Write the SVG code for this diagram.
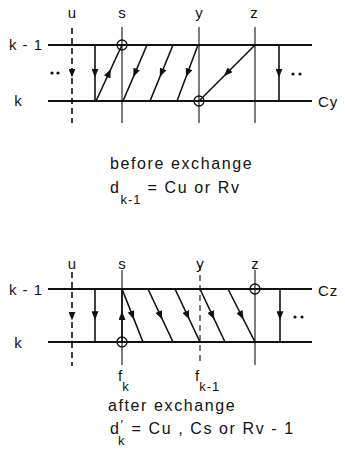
<svg xmlns="http://www.w3.org/2000/svg" width="345" height="463" viewBox="0 0 345 463">
<style>
text{font-family:"Liberation Sans","DejaVu Sans",sans-serif;fill:#111}
.lbl{font-size:15px;text-anchor:middle}
.cap{font-size:16px;letter-spacing:1.6px}
.sub{font-size:13px;letter-spacing:1px}
.rail{stroke:#111;stroke-width:2;fill:none}
.col{stroke:#111;stroke-width:1.1;fill:none}
.dash{stroke-dasharray:6 4}
.arr{stroke:#111;stroke-width:1.6;fill:none;marker-mid:url(#ah)}
.ring{stroke:#111;stroke-width:1.3;fill:none}
.dot{fill:#111}
</style>
<defs>
<marker id="ah" viewBox="0 0 10 8" refX="5" refY="4" markerWidth="9" markerHeight="7" orient="auto" markerUnits="userSpaceOnUse">
<path d="M0,0 L10,4 L0,8 z" fill="#111"/>
</marker>
</defs>
<rect width="345" height="463" fill="#fff"/>

<!-- BEFORE EXCHANGE -->
<g id="before-labels">
<text class="lbl" x="72" y="18">u</text>
<text class="lbl" x="122" y="18">s</text>
<text class="lbl" x="199" y="18">y</text>
<text class="lbl" x="254" y="18">z</text>
<text class="lbl" x="26" y="50" style="letter-spacing:1px">k - 1</text>
<text class="lbl" x="18" y="106">k</text>
<text class="lbl" x="318" y="107" style="text-anchor:start;letter-spacing:1px">Cy</text>
</g>
<g id="before-rails">
<line class="rail" x1="48" y1="45" x2="312" y2="45"/>
<line class="rail" x1="48" y1="101" x2="312" y2="101"/>
</g>
<g id="before-columns">
<line class="col" x1="122" y1="27" x2="122" y2="123"/>
<line class="col" x1="199" y1="27" x2="199" y2="123"/>
<line class="col" x1="255" y1="27" x2="255" y2="123"/>
<circle class="ring" cx="122" cy="45" r="5"/>
<circle class="ring" cx="199" cy="101" r="5"/>
<circle class="dot" cx="52" cy="73" r="1.6"/>
<circle class="dot" cx="58" cy="73" r="1.6"/>
<circle class="dot" cx="293" cy="74" r="1.6"/>
<circle class="dot" cx="300" cy="74" r="1.6"/>
</g>
<g id="before-connectors">
<path class="arr dash" d="M72,28 L72,73 L72,123"/>
<path class="arr" d="M95,45 L95,73 L95,101"/>
<path class="arr" d="M96,101 L109,73 L122,45"/>
<path class="arr" d="M147,45 L135,73 L123,101"/>
<path class="arr" d="M173,45 L161.5,73 L150,101"/>
<path class="arr" d="M198,45 L187.5,73 L177,101"/>
<path class="arr" d="M255,45 L227,73 L199,101"/>
<path class="arr" d="M279,45 L279,73 L279,101"/>
</g>
<g id="before-caption">
<text class="cap" x="110" y="169">before exchange</text>
<text class="cap" x="110" y="193">d<tspan class="sub" dy="11">k-1</tspan><tspan dy="-11"> = Cu  or Rv</tspan></text>
</g>

<!-- AFTER EXCHANGE -->
<g id="after-labels">
<text class="lbl" x="72" y="269">u</text>
<text class="lbl" x="122" y="269">s</text>
<text class="lbl" x="200" y="269">y</text>
<text class="lbl" x="255" y="269">z</text>
<text class="lbl" x="26" y="295" style="letter-spacing:1px">k - 1</text>
<text class="lbl" x="18" y="348">k</text>
<text class="lbl" x="318" y="296" style="text-anchor:start;letter-spacing:1px">Cz</text>
</g>
<g id="after-rails">
<line class="rail" x1="48" y1="289" x2="312" y2="289"/>
<line class="rail" x1="48" y1="342" x2="312" y2="342"/>
</g>
<g id="after-columns">
<line class="col" x1="122" y1="270" x2="122" y2="365"/>
<line class="col dash" x1="200" y1="265" x2="200" y2="365"/>
<line class="col" x1="255" y1="270" x2="255" y2="365"/>
<circle class="ring" cx="122" cy="342" r="5"/>
<circle class="ring" cx="255" cy="289" r="5"/>
<circle class="dot" cx="295" cy="317" r="1.6"/>
<circle class="dot" cx="302" cy="317" r="1.6"/>
</g>
<g id="after-connectors">
<path class="arr dash" d="M72,272 L72,316 L72,366"/>
<path class="arr" d="M95,289 L95,315.5 L95,342"/>
<path class="arr" d="M122,342 L122,315.5 L122,289"/>
<path class="arr" d="M122,289 L132.5,315.5 L143,342"/>
<path class="arr" d="M148,289 L160.5,315.5 L173,342"/>
<path class="arr" d="M175,289 L187.5,315.5 L200,342"/>
<path class="arr" d="M200,289 L212.5,315.5 L225,342"/>
<path class="arr" d="M228,289 L241.5,315.5 L255,342"/>
<path class="arr" d="M280,289 L280,315.5 L280,342"/>
</g>
<g id="after-labels-below">
<text class="lbl" x="118" y="381" style="text-anchor:start">f<tspan class="sub" dy="10">k</tspan></text>
<text class="lbl" x="195" y="381" style="text-anchor:start">f<tspan class="sub" dy="10">k-1</tspan></text>
</g>
<g id="after-caption">
<text class="cap" x="108" y="411">after exchange</text>
<text class="cap" x="110" y="434">d<tspan class="sub" dy="-5">′</tspan><tspan class="sub" dx="-6" dy="16">k</tspan><tspan dy="-11"> = Cu , Cs  or Rv - 1</tspan></text>
</g>
</svg>
